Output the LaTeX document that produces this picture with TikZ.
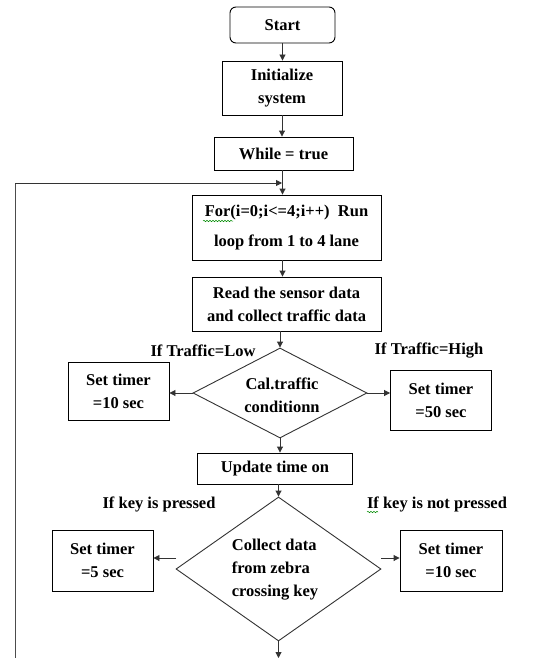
\documentclass[tikz,border=0pt]{standalone}
\usepackage{fontspec}
\setmainfont{Liberation Serif}
\usetikzlibrary{shapes.geometric,arrows.meta,decorations.pathmorphing}
\begin{document}
\begin{tikzpicture}[x=1pt,y=-1pt,
  every node/.style={font=\fontsize{16.5}{23}\selectfont\bfseries},
  box/.style={draw=black,line width=0.9pt,inner sep=0pt,align=center},
  dia/.style={draw=black!80,line width=0.9pt,diamond,inner sep=0pt},
  lbl/.style={inner sep=0pt,align=center},
  conn/.style={draw=black!80,line width=0.9pt,-{Triangle[length=6pt,width=6pt]}},
  line/.style={draw=black!70,line width=1pt}]
\useasboundingbox (0,0) rectangle (557,658);
\fill[white] (0,0) rectangle (557,658);
% nodes
\node[box,rounded corners=6pt,minimum width=105pt,minimum height=36pt] (start) at (282.5,25) {Start};
\node[box,minimum width=120pt,minimum height=54pt] (init) at (282,88) {Initialize\\system};
\node[box,minimum width=139pt,minimum height=33pt] (while) at (283.5,153.5) {While = true};
\node[box,minimum width=189pt,minimum height=65pt] (for) at (286.5,227.5) {For(i=0;i<=4;i++)\ \ Run\\[7pt]loop from 1 to 4 lane};
\node[box,minimum width=189pt,minimum height=54pt] (read) at (286.5,304) {Read the sensor data\\and collect traffic data};
\node[dia,minimum width=174pt,minimum height=90pt] (cal) at (280,393) {};
\node[lbl] (caltxt) at (282,395) {Cal.traffic\\conditionn};
\node[box,minimum width=101pt,minimum height=58pt] (low) at (118.5,391) {Set timer\\=10 sec};
\node[box,minimum width=101pt,minimum height=60pt] (high) at (441,400) {Set timer\\=50 sec};
\node[box,minimum width=155pt,minimum height=31pt] (upd) at (275,468.5) {Update time on};
\node[dia,minimum width=205pt,minimum height=144pt] (key) at (278.5,569) {};
\node[lbl,align=left] (keytxt) at (275,570) {Collect data\\from zebra\\crossing key};
\node[box,minimum width=101pt,minimum height=61pt] (five) at (102.5,560.5) {Set timer\\=5 sec};
\node[box,minimum width=102pt,minimum height=61pt] (ten) at (451,560.5) {Set timer\\=10 sec};
% labels
\node[lbl] (lowl) at (203,351) {If Traffic=Low};
\node[lbl] (highl) at (429,351) {If Traffic=High};
\node[lbl] (keyp) at (159,504) {If key is pressed};
\node[lbl] (keyn) at (437,504) {If key is not pressed};
% spell-check squiggles
\draw[green!55!black,line width=0.5pt,decorate,decoration={snake,amplitude=0.7pt,segment length=3pt}] (203,221) -- (233,221);
\draw[green!55!black,line width=0.5pt,decorate,decoration={snake,amplitude=0.7pt,segment length=3pt}] (367,512) -- (378,512);
% coordinates
\coordinate (lb) at (15,658);
\coordinate (lt) at (15,183);
\coordinate (lj) at (282,183);
\coordinate (kl) at (176,558);
\coordinate (kr) at (381,558);
\coordinate (kb) at (278.5,658);
% connectors
\draw[conn] (start.south) -- (start.south |- init.north);
\draw[conn] (init.south) -- (init.south |- while.north);
\draw[conn] (while.south -| start.south) -- (start.south |- for.north);
\draw[line] (lb) -- (lt);
\draw[conn] (lt) -- (lj);
\draw[conn] (for.south -| start.south) -- (start.south |- read.north);
\draw[conn] (cal.north |- read.south) -- (cal.north);
\draw[conn] (cal.west) -- (cal.west -| low.east);
\draw[conn] (cal.east) -- (cal.east -| high.west);
\draw[conn] (cal.south) -- (cal.south |- upd.north);
\draw[conn] (upd.south -| key.north) -- (key.north);
\draw[conn] (kl) -- (kl -| five.east);
\draw[conn] (kr) -- (kr -| ten.west);
\draw[conn] (key.south) -- (kb);
\end{tikzpicture}
\end{document}
